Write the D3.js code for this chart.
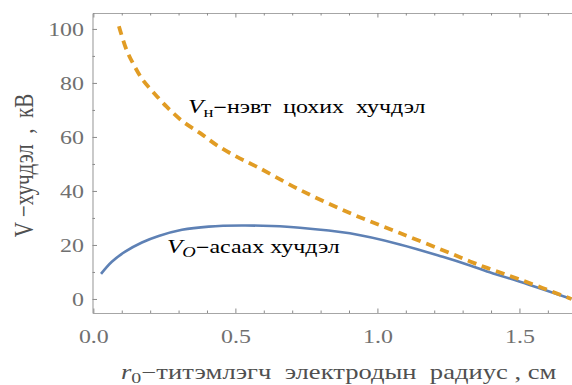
<!DOCTYPE html>
<html>
  <head>
    <meta http-equiv="Content-Type" content="text/html;charset=utf-8">
    <title>V - r0 chart</title>
    <script type="text/javascript" src="https://d3js.org/d3.v7.min.js"></script>
    <style>
      html, body {
        margin: 0;
        padding: 0;
        background: #fff;
      }
      text {
        font-family: "Liberation Serif", "Times New Roman", serif;
        white-space: pre;
      }
      .frame path.domain { stroke: #a6a6a6; stroke-width: 1.2px; }
      .frame line { stroke: #8a8a8a; stroke-width: 1px; }
      .frame text { fill: #707070; font-size: 18px; }
      path.line { fill: none; }
    </style>
  </head>
  <body>
  <script type="text/javascript">

// breakdown voltage (dashed orange)
var radiusBreak = [0.09, 0.117, 0.146, 0.174, 0.209, 0.258, 0.315, 0.375, 0.434, 0.504, 0.575, 0.727, 0.903, 1.079, 1.255, 1.326, 1.386, 1.502, 1.683];
var voltBreak   = [101, 92.2, 86.0, 81.1, 76.8, 71.2, 65.7, 61.5, 57.0, 52.7, 49.0, 40.4, 31.8, 24.4, 17.0, 13.9, 11.5, 7.2, 0];

// starting (corona onset) voltage (solid blue)
var radiusStart = [0.027, 0.065, 0.112, 0.171, 0.23, 0.312, 0.406, 0.523, 0.628, 0.727, 0.903, 1.079, 1.23, 1.326, 1.386, 1.502, 1.683];
var voltStart   = [9.3, 13.8, 17.5, 20.9, 23.3, 25.6, 26.8, 27.2, 27.0, 26.4, 24.3, 20.2, 15.6, 12.4, 10.2, 6.4, 0];

var xMajor = [0, 0.5, 1.0, 1.5];
var xMinor = [0.1, 0.2, 0.3, 0.4, 0.6, 0.7, 0.8, 0.9, 1.1, 1.2, 1.3, 1.4, 1.6];
var yMajor = [0, 20, 40, 60, 80, 100];
var yMinor = [10, 30, 50, 70, 90];

var W = 572, H = 385;
var sx = 1.33; // the original picture is stretched sideways

var x = d3.scaleLinear().domain([-0.003, 1.685]).range([92.5, 572]);
var y = d3.scaleLinear().domain([-5.2, 105.9]).range([313, 13]);

var svg = d3.select("body").append("svg").attr("width", W).attr("height", H);

// frame: left, bottom, top
function frameAxis(axis, tr, values, size, labels) {
  var g = svg.append("g").attr("class", "frame").attr("transform", tr)
    .call(axis.tickValues(values).tickSize(size).tickSizeOuter(0).tickPadding(0)
      .tickFormat(labels ? labels : ""));
  return g;
}

var gl = frameAxis(d3.axisLeft(y), "translate(92.5,0)", yMajor, -4.5, d3.format("d"));
gl.selectAll("text").attr("x", -8.5 / sx).attr("dy", "0.34em").attr("transform", "scale(" + sx + ",1)");
frameAxis(d3.axisLeft(y), "translate(92.5,0)", yMinor, -2.5, null).select(".domain").remove();

var gb = frameAxis(d3.axisBottom(x), "translate(0,313)", xMajor, -4.5, d3.format(".1f"));
gb.selectAll("text").attr("y", 30).attr("dy", 0).attr("x", 0)
  .attr("transform", "scale(" + sx + ",1)");
frameAxis(d3.axisBottom(x), "translate(0,313)", xMinor, -2.5, null).select(".domain").remove();

frameAxis(d3.axisTop(x), "translate(0,13)", xMajor, -4.5, null);
frameAxis(d3.axisTop(x), "translate(0,13)", xMinor, -2.5, null).select(".domain").remove();

// curves
var line = d3.line()
  .x(function(d) { return x(d[0]); })
  .y(function(d) { return y(d[1]); })
  .curve(d3.curveCatmullRom.alpha(0.5));

svg.append("path").attr("class", "line")
  .attr("d", line(d3.zip(radiusStart, voltStart)))
  .attr("stroke", "#5e81b5").attr("stroke-width", 2.6);

svg.append("path").attr("class", "line")
  .attr("d", line(d3.zip(radiusBreak, voltBreak)))
  .attr("stroke", "#e19c24").attr("stroke-width", 3.8)
  .attr("stroke-dasharray", "9,6");

// curve labels
function stretched(px, py, rot) {
  return "translate(" + px + "," + py + ") scale(" + sx + ",1)" + (rot ? " rotate(" + rot + ")" : "");
}

var t1 = svg.append("text").attr("transform", stretched(x(0.333), y(68.9)))
  .attr("font-size", 18).attr("fill", "#000");
t1.append("tspan").attr("font-style", "italic").attr("font-size", 19).text("V");
t1.append("tspan").attr("font-size", 14).attr("dy", 4).text("н");
t1.append("tspan").attr("dy", -4).attr("font-weight", "bold").text("\u2212");
t1.append("tspan").text("нэвт  цохих  хучдэл");

var t2 = svg.append("text").attr("transform", stretched(x(0.259), y(17)))
  .attr("font-size", 18).attr("fill", "#000");
t2.append("tspan").attr("font-style", "italic").attr("font-size", 19).text("V");
t2.append("tspan").attr("font-style", "italic").attr("font-size", 14).attr("dy", 4).text("O");
t2.append("tspan").attr("dy", -4).attr("font-weight", "bold").text("\u2212");
t2.append("tspan").text("асаах хучдэл");

// axis labels
var xl = svg.append("text").attr("transform", stretched(121, 379))
  .attr("font-size", 20).attr("fill", "#505050");
xl.append("tspan").attr("font-style", "italic").text("r");
xl.append("tspan").attr("font-size", 15).attr("dy", 4).text("0");
xl.append("tspan").attr("dy", -4).text("\u2212титэмлэгч  электродын  радиус , см");

svg.append("text").attr("transform", stretched(33, 165.5, -90))
  .attr("font-size", 21).attr("fill", "#505050").attr("text-anchor", "middle")
  .text("V \u2212хучдэл  ,  кВ");

  </script>
  </body>
</html>
